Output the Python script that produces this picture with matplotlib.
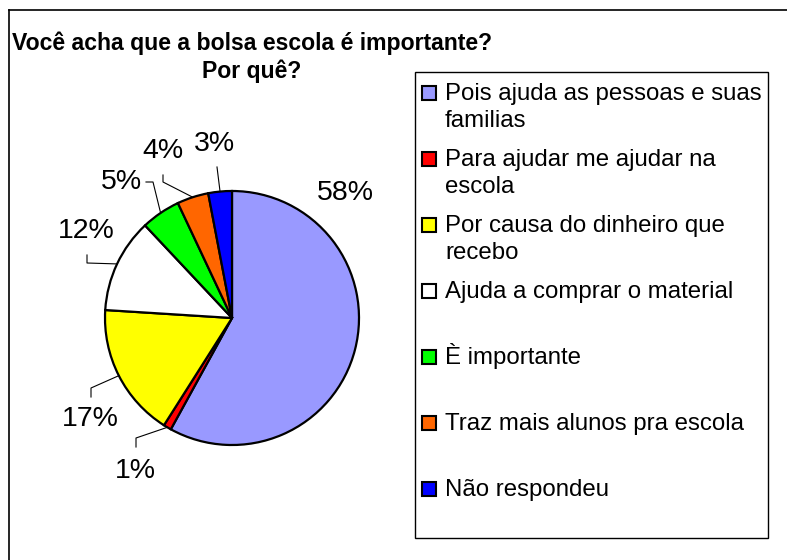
import numpy as np
import matplotlib
matplotlib.use("Agg")
import matplotlib.pyplot as plt
from matplotlib.patches import Rectangle

plt.rcParams['font.family'] = ['Liberation Sans', 'DejaVu Sans']

# ---- data ----
title = "Você acha que a bolsa escola é importante?\nPor quê?"
categories = ["Pois ajuda as pessoas e suas\nfamilias",
              "Para ajudar me ajudar na\nescola",
              "Por causa do dinheiro que\nrecebo",
              "Ajuda a comprar o material",
              "È importante",
              "Traz mais alunos pra escola",
              "Não respondeu"]
values = [58, 1, 17, 12, 5, 4, 3]
pct_labels = ["58%", "1%", "17%", "12%", "5%", "4%", "3%"]
colors = ["#9999FF", "#FF0000", "#FFFF00", "#FFFFFF", "#00FF00", "#FF6600", "#0000FF"]

# ---- layout (pixels) ----
W, H = 787, 560
CX, CY, R = 232, 318, 127
# label centres and leader-line bend points (pixel layout)
label_pos = [(345, 193), (135, 471), (90, 419), (86, 231), (121, 182), (163, 151), (214, 144)]
leaders = [None,
           [(136, 438), (136, 447)],
           [(91, 388), (91, 397)],
           [(87, 263), (87, 255)],
           [(153, 182), (146, 182)],
           [(163, 182), (163, 175)],
           [(217, 167)]]

fig = plt.figure(figsize=(W / 100, H / 100), dpi=100)
bg = fig.add_axes([0, 0, 1, 1])
bg.set_xlim(0, W)
bg.set_ylim(H, 0)
bg.axis('off')

# outer border (extends past right/bottom edges)
bg.plot([9, W + 5], [10, 10], color='black', lw=1.2)
bg.plot([9, 9], [10, H + 5], color='black', lw=1.2)

# title
lines = title.split("\n")
bg.text(252, 50, lines[0], ha='center', va='baseline', fontsize=16.6, fontweight='bold')
bg.text(252, 78, lines[1], ha='center', va='baseline', fontsize=16.6, fontweight='bold')

# pie axes
ax = fig.add_axes([(CX - R) / W, (H - CY - R) / H, 2 * R / W, 2 * R / H])
wedges, _ = ax.pie(values, colors=colors, startangle=90, counterclock=False,
                   radius=1.0, wedgeprops=dict(edgecolor='black', linewidth=1.6))
ax.set_xlim(-1, 1)
ax.set_ylim(-1, 1)
ax.set_aspect('auto')
ax.axis('off')


def to_data(p):
    return ((p[0] - CX) / R, (CY - p[1]) / R)


for w, lab, lp, ld in zip(wedges, pct_labels, label_pos, leaders):
    mid = np.deg2rad((w.theta1 + w.theta2) / 2)
    edge = (np.cos(mid), np.sin(mid))
    if ld is not None:
        pts = [edge] + [to_data(p) for p in ld]
        xs, ys = zip(*pts)
        ax.plot(xs, ys, color='black', lw=0.8, clip_on=False)
    tx, ty = to_data(lp)
    ax.text(tx, ty, lab, ha='center', va='center', fontsize=20.5, clip_on=False)

# legend box
bg.add_patch(Rectangle((415, 72), 768 - 415, 538 - 72, facecolor='white',
                       edgecolor='black', lw=1.0, zorder=1))
base0, step, lstep = 100, 66, 27
for i, (cat, col) in enumerate(zip(categories, colors)):
    b = base0 + step * i
    bg.add_patch(Rectangle((422, b - 14), 14, 14, facecolor=col, edgecolor='black',
                           lw=1.5, zorder=3))
    for j, line in enumerate(cat.split("\n")):
        bg.text(445, b + lstep * j, line, ha='left', va='baseline', fontsize=17.3, zorder=3)

fig.savefig("out.png", dpi=100)
